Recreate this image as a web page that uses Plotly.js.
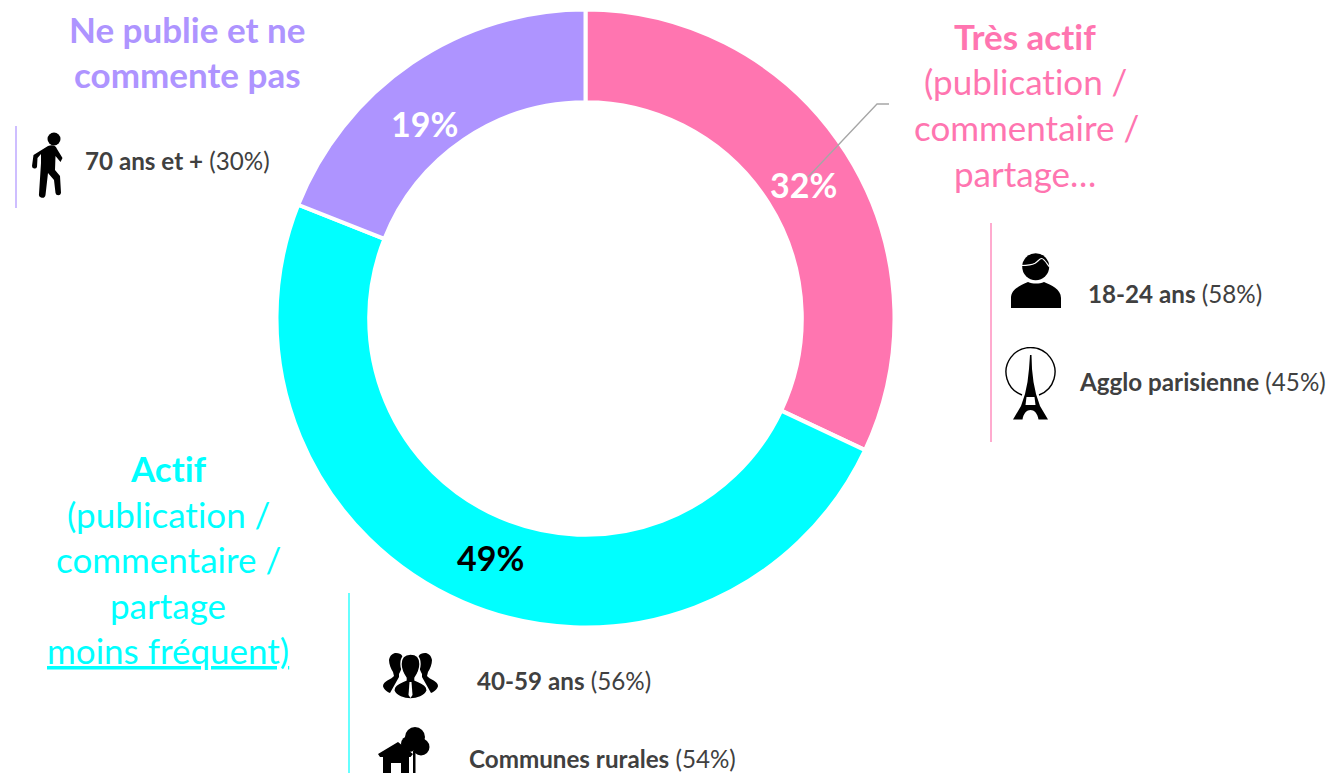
<!DOCTYPE html>
<html><head><meta charset="utf-8">
<script src="https://cdn.plot.ly/plotly-3.0.1.min.js"></script>
<style>html,body{margin:0;padding:0;background:#fff;overflow:hidden}#c{width:1334px;height:773px}
svg text{font-variant-ligatures:none;font-feature-settings:"liga" 0}</style>
</head><body><div id="c"></div>
<script>
const categories = ["Très actif", "Actif", "Ne publie et ne commente pas"];
const values = [32, 49, 19];
const colors = ["#FF75B0", "#00FFFF", "#AE94FF"];
const percentColors = ["#FFFFFF", "#000000", "#FFFFFF"];
const percentAnchors = [[803.5,184],[490,557],[425,123]];

const W = 1334, H = 773;
const FONT = "Lato, Carlito, sans-serif";
const GREY = "#404040";
const px = x => x / W, py = y => 1 - y / H;

// [text, centre x, centre y, size, colour]
const headings = [
  ["<b>Ne publie et ne</b>", 187, 28.5, 35, colors[2]],
  ["<b>commente pas</b>", 187, 73.5, 35, colors[2]],
  ["<b>Très actif</b>", 1025, 36, 35, colors[0]],
  ["(publication /", 1025, 81, 35, colors[0]],
  ["commentaire /", 1026, 127, 35, colors[0]],
  ["partage…", 1025, 173, 35, colors[0]],
  ["<b>Actif</b>", 168, 468, 35, colors[1]],
  ["(publication /", 168, 514, 35, colors[1]],
  ["commentaire /", 168, 559, 35, colors[1]],
  ["partage", 168, 605, 35, colors[1]],
  ["<u>moins fréquent)</u>", 168, 650, 35, colors[1]]
];
// [text, left x, centre y]
const details = [
  ["<b>70 ans et +</b> (30%)", 83, 160],
  ["<b>18-24 ans</b> (58%)", 1086, 294],
  ["<b>Agglo parisienne</b> (45%)", 1077, 382],
  ["<b>40-59 ans</b> (56%)", 475, 680.5],
  ["<b>Communes rurales</b> (54%)", 467, 758.5]
];
const dividers = [[16,126,208,colors[2]],[991,223,442,colors[0]],[349,593,773,colors[1]]];

const svg = (w,h,body) => "data:image/svg+xml," + encodeURIComponent(
  `<svg xmlns="http://www.w3.org/2000/svg" width="${w}" height="${h}" viewBox="0 0 ${w} ${h}">${body}</svg>`);

const icons = [
  [32,131,31,67, svg(31,67,`<circle cx="22" cy="8" r="6.5"/><path d="M16 15 C21 13 24 15 25 18 L30.5 27 L28.5 31 L23.5 25 L23 39 L28 45 L29 62 A2.8 2.8 0 0 1 23.5 62 L22 49 L16 42 L13.5 64 A3 3 0 0 1 7 63 L9 32 L9 23 L5.5 27 L5 36 A2.6 2.6 0 0 1 0 35 L1.5 24 Z"/>`)],
  [1011,253,50,55, svg(50,55,`<circle cx="24.7" cy="13.7" r="13.5"/><path d="M10 12.5 C16 12.5 21 12 24 10.3 C27 8.5 28.5 5.5 30.7 5.5 C33 5.5 35.5 10 38.5 14" fill="none" stroke="#fff" stroke-width="1.2"/><path d="M0 55 V45 C0 36 10 32 17 29 C22 31 28 31 33 29 C40 32 50 36 50 45 V55 Z"/>`)],
  [1005,347,51,74, svg(51,74,`<path d="M17 48 A24.5 24.5 0 1 1 34 48" fill="none" stroke="#000" stroke-width="1.4"/><path d="M25 8 L26.5 8 L27 22 L28.5 35 L31 47 L35 59 L43 72.5 L33.5 72.5 C32.5 66 29 63 25.5 63 C22 63 18.5 66 17.5 72.5 L8 72.5 L16 59 L20 47 L22.5 35 L24 22 Z"/><path d="M21.5 50 L29.5 50 L30.5 58 L20.5 58 Z" fill="#fff"/>`)],
  [383,653,55,46, svg(55,46,`<path d="M13 0 C19 0 21 4 20 10 C19 15 17 19 16 21 L16 24 L7 40 C2 38 0 34 0 33 C0 28 9 26 11 23 L10 19 C8 16 6 11 6 7 C7 2 10 0 13 0 Z"/><path d="M42 0 C36 0 34 4 35 10 C36 15 38 19 39 21 L39 24 L48 40 C53 38 55 34 55 33 C55 28 46 26 44 23 L45 19 C47 16 49 11 49 7 C48 2 45 0 42 0 Z"/><path d="M27.5 1 C34 1 37 5 37 11 C37 16 34 22 32 25 L32 27 C38 30 45 32 44 38 C42 43 34 46 27.5 46 C21 46 13 43 11 38 C10 32 17 30 23 27 L23 25 C21 22 18 16 18 11 C18 5 21 1 27.5 1 Z" stroke="#fff" stroke-width="1.4"/><path d="M26.5 29 L28.5 29 L29.5 42 L27.5 45 L25.5 42 Z" fill="#fff"/>`)],
  [378,727,52,46, svg(52,46,`<circle cx="37" cy="10" r="10"/><circle cx="43" cy="20" r="8.5"/><circle cx="31" cy="17" r="8"/><path d="M35 24 H37.5 V46 H35 Z"/><path d="M0 27 L20 15 L35 27 L32.5 30 L31 30 L31 46 L23 46 L23 36 L13 36 L13 46 L5 46 L5 30 L2 30 Z"/>`)]
];

const annotations = [];
headings.forEach(([text,x,y,size,color]) => annotations.push({
  text, x:px(x), y:py(y), xref:"paper", yref:"paper", xanchor:"center", yanchor:"middle",
  showarrow:false, font:{family:FONT,size,color}
}));
details.forEach(([text,x,y]) => annotations.push({
  text, x:px(x), y:py(y), xref:"paper", yref:"paper", xanchor:"left", yanchor:"middle",
  showarrow:false, font:{family:FONT,size:24.2,color:GREY}
}));
values.forEach((v,i) => annotations.push({
  text:`<b>${v}%</b>`, x:px(percentAnchors[i][0]), y:py(percentAnchors[i][1]), xref:"paper", yref:"paper",
  xanchor:"center", yanchor:"middle", showarrow:false, font:{family:FONT,size:34,color:percentColors[i]}
}));

const shapes = dividers.map(([x,y0,y1,color]) => ({
  type:"line", xref:"paper", yref:"paper", x0:px(x), x1:px(x), y0:py(y0), y1:py(y1),
  line:{color, width:1.5}, opacity:0.8
}));
shapes.push({type:"path", xref:"paper", yref:"paper", layer:"above",
  path:`M ${px(808)} ${py(177)} L ${px(877)} ${py(104)} L ${px(889)} ${py(104)}`,
  line:{color:"#A6A6A6", width:1.3}});

const images = icons.map(([x,y,w,h,source]) => ({
  source, xref:"paper", yref:"paper", x:px(x), y:py(y), sizex:w/W, sizey:h/H,
  xanchor:"left", yanchor:"top", sizing:"stretch", layer:"above"
}));

Plotly.newPlot("c", [{
  type:"pie", labels:categories, values, sort:false, direction:"clockwise", rotation:0, hole:0.70,
  textinfo:"none", hoverinfo:"label+percent",
  marker:{colors, line:{color:"#FFFFFF", width:4}},
  domain:{x:[px(276.5),px(894.5)], y:[py(628.5),py(8.5)]}
}], {
  width:W, height:H, margin:{l:0,r:0,t:0,b:0}, showlegend:false,
  paper_bgcolor:"#FFFFFF", annotations, shapes, images
}, {displayModeBar:false, staticPlot:true});
</script></body></html>
